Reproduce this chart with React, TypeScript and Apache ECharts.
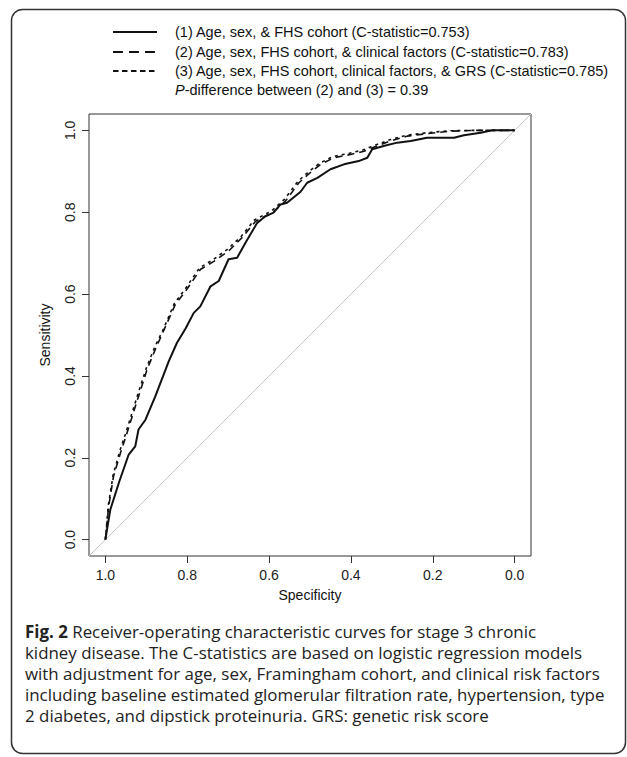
import React, { useEffect, useRef } from "react";
import * as echarts from "echarts";

// Axis ticks
const tickValues = [0, 0.2, 0.4, 0.6, 0.8, 1.0];

// (1) Age, sex, & FHS cohort — solid
const m1Spec = [1.0, 0.988, 0.967, 0.943, 0.927, 0.919, 0.902, 0.878, 0.845, 0.825, 0.804, 0.784, 0.768, 0.743, 0.723, 0.699, 0.678, 0.658, 0.629, 0.609, 0.589, 0.572, 0.556, 0.523, 0.507, 0.482, 0.45, 0.417, 0.381, 0.36, 0.348, 0.32, 0.287, 0.254, 0.214, 0.148, 0.124, 0.083, 0.055, 0.0];
const m1Sens = [0.0, 0.073, 0.139, 0.208, 0.228, 0.269, 0.293, 0.35, 0.436, 0.481, 0.516, 0.554, 0.57, 0.619, 0.632, 0.685, 0.689, 0.725, 0.774, 0.79, 0.799, 0.819, 0.823, 0.85, 0.872, 0.884, 0.905, 0.917, 0.925, 0.933, 0.954, 0.962, 0.97, 0.974, 0.982, 0.982, 0.988, 0.994, 1.0, 1.0];

// (2) + clinical factors — dashed
const m2Spec = [1.0, 0.992, 0.98, 0.963, 0.947, 0.919, 0.898, 0.878, 0.857, 0.829, 0.804, 0.768, 0.735, 0.699, 0.666, 0.633, 0.592, 0.56, 0.527, 0.499, 0.474, 0.442, 0.401, 0.368, 0.336, 0.303, 0.262, 0.213, 0.156, 0.1, 0.0];
const m2Sens = [0.0, 0.081, 0.155, 0.212, 0.261, 0.35, 0.416, 0.465, 0.512, 0.575, 0.607, 0.66, 0.68, 0.705, 0.738, 0.778, 0.799, 0.827, 0.872, 0.897, 0.917, 0.933, 0.941, 0.949, 0.962, 0.974, 0.986, 0.992, 0.998, 1.0, 1.0];

// (3) + clinical factors + GRS — short dashes
const m3Spec = [1.0, 0.993, 0.981, 0.965, 0.949, 0.921, 0.9, 0.88, 0.858, 0.831, 0.806, 0.77, 0.737, 0.702, 0.668, 0.636, 0.594, 0.562, 0.529, 0.501, 0.476, 0.444, 0.404, 0.371, 0.338, 0.305, 0.265, 0.216, 0.16, 0.104, 0.0];
const m3Sens = [0.0, 0.083, 0.158, 0.216, 0.264, 0.354, 0.419, 0.469, 0.515, 0.578, 0.611, 0.664, 0.684, 0.709, 0.741, 0.781, 0.803, 0.832, 0.876, 0.901, 0.92, 0.936, 0.944, 0.952, 0.965, 0.977, 0.988, 0.994, 0.999, 1.0, 1.0];

// Chance line (abline through the full plot region)
const refSpec = [1.04, -0.04];
const refSens = [-0.04, 1.04];

const legendLabels = [
  "(1) Age, sex, & FHS cohort (C-statistic=0.753)",
  "(2) Age, sex, FHS cohort, & clinical factors (C-statistic=0.783)",
  "(3) Age, sex, FHS cohort, clinical factors, & GRS (C-statistic=0.785)",
];
const pNote = "{i|P}-difference between (2) and (3) = 0.39";

const captionLines = [
  "{b|Fig. 2} Receiver-operating characteristic curves for stage 3 chronic",
  "kidney disease. The C-statistics are based on logistic regression models",
  "with adjustment for age, sex, Framingham cohort, and clinical risk factors",
  "including baseline estimated glomerular filtration rate, hypertension, type",
  "2 diabetes, and dipstick proteinuria. GRS: genetic risk score",
];

const zip = (a: number[], b: number[]) => a.map((v, i) => [v, b[i]]);

const SANS = "'Liberation Sans', Arial, Helvetica, sans-serif";
const CAP = "'Open Sans', 'Noto Sans', sans-serif";

export default function App() {
  const ref = useRef<HTMLDivElement>(null);

  useEffect(() => {
    if (!ref.current) return;
    const chart = echarts.init(ref.current, null, { renderer: "svg" });

    const legendDash: (number[] | null)[] = [null, [10, 6], [5.5, 3.5]];
    const legendY = [32, 52, 71];

    const graphic: any[] = [
      {
        type: "rect",
        shape: { x: 11.5, y: 9.5, width: 614, height: 744, r: 11 },
        style: { fill: "none", stroke: "#333", lineWidth: 1.5 },
        silent: true,
      },
    ];
    legendLabels.forEach((t, i) => {
      graphic.push({
        type: "line",
        shape: { x1: 113, y1: legendY[i], x2: 157, y2: legendY[i] },
        style: { stroke: "#111", lineWidth: 2, lineDash: legendDash[i] },
      });
      graphic.push({
        type: "text",
        x: 175,
        y: legendY[i],
        style: { text: t, fill: "#111", font: `14.5px ${SANS}`, verticalAlign: "middle", align: "left" },
      });
    });
    graphic.push({
      type: "text",
      x: 175,
      y: 90,
      style: {
        text: pNote,
        fill: "#111",
        fontSize: 14.5,
        fontFamily: SANS,
        verticalAlign: "middle",
        align: "left",
        rich: { i: { fontStyle: "italic", fontSize: 14.5, fontFamily: SANS, fill: "#111" } },
      },
    });
    captionLines.forEach((t, i) => {
      graphic.push({
        type: "text",
        x: 25,
        y: 631 + i * 21,
        style: {
          text: t,
          fill: "#222",
          fontSize: 16.9,
          fontFamily: CAP,
          verticalAlign: "middle",
          align: "left",
          rich: { b: { fontWeight: "bold", fontSize: 16.9, fontFamily: CAP, fill: "#222" } },
        },
      });
    });

    const lineSeries = (name: string, data: number[][], type: any, width: number) => ({
      name,
      type: "line",
      data,
      showSymbol: false,
      symbol: "none",
      z: 3,
      lineStyle: { color: "#111", width, type },
    });

    chart.setOption({
      animation: false,
      backgroundColor: "#fff",
      grid: {
        left: 89,
        top: 114,
        width: 442,
        height: 442,
        show: true,
        borderColor: "#333",
        borderWidth: 1,
        backgroundColor: "transparent",
      },
      xAxis: {
        type: "value",
        inverse: true,
        min: -0.04,
        max: 1.04,
        name: "Specificity",
        nameLocation: "middle",
        nameGap: 32,
        nameTextStyle: { fontSize: 14, fontFamily: SANS, color: "#111" },
        axisLine: { show: false, onZero: false },
        splitLine: { show: false },
        axisTick: { show: true, length: 7, lineStyle: { color: "#333" }, customValues: tickValues },
        axisLabel: {
          customValues: tickValues,
          formatter: (v: number) => v.toFixed(1),
          fontSize: 14,
          fontFamily: SANS,
          color: "#222",
          margin: 12,
        },
      },
      yAxis: {
        type: "value",
        min: -0.04,
        max: 1.04,
        name: "Sensitivity",
        nameLocation: "middle",
        nameRotate: 90,
        nameGap: 37,
        nameTextStyle: { fontSize: 14, fontFamily: SANS, color: "#111" },
        axisLine: { show: false, onZero: false },
        splitLine: { show: false },
        axisTick: { show: true, length: 7, lineStyle: { color: "#333" }, customValues: tickValues },
        axisLabel: {
          customValues: tickValues,
          formatter: (v: number) => v.toFixed(1),
          rotate: 90,
          fontSize: 14,
          fontFamily: SANS,
          color: "#222",
          margin: 12,
        },
      },
      series: [
        {
          name: "chance",
          type: "line",
          data: zip(refSpec, refSens),
          showSymbol: false,
          symbol: "none",
          z: 2,
          lineStyle: { color: "#c4c4c4", width: 1 },
        },
        lineSeries(legendLabels[0], zip(m1Spec, m1Sens), "solid", 2),
        lineSeries(legendLabels[1], zip(m2Spec, m2Sens), [7, 5], 1.6),
        lineSeries(legendLabels[2], zip(m3Spec, m3Sens), [3, 4], 1.6),
      ],
      graphic,
    });

    return () => chart.dispose();
  }, []);

  return (
    <div
      ref={ref}
      style={{ position: "absolute", left: 0, top: 0, width: 627, height: 757, background: "#fff" }}
    />
  );
}
